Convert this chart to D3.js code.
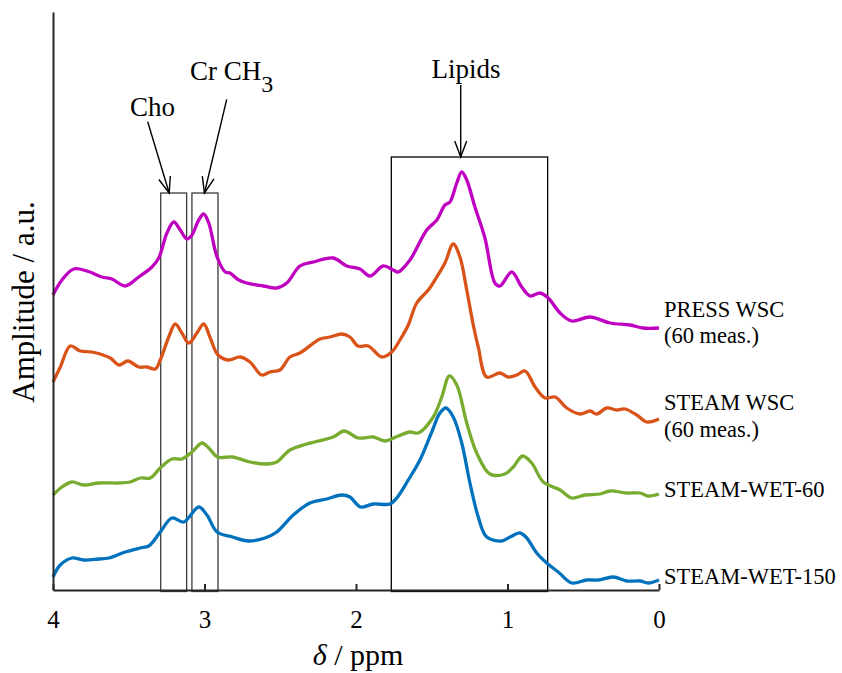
<!DOCTYPE html>
<html>
<head>
<meta charset="utf-8">
<script src="https://cdn.jsdelivr.net/npm/d3@7"></script>
<style>
  html, body { margin: 0; padding: 0; background: #fff; }
  svg text { font-family: "Liberation Serif", "Times New Roman", serif; fill: #000; }
</style>
</head>
<body>
<svg id="chart" width="842" height="673"></svg>
<script>
// Spectra: [chemical shift (ppm), amplitude (a.u.)], stacked with offsets
const pressWsc = [[4.00,295],[3.941,310],[3.863,321],[3.776,319],[3.677,313],[3.611,311],[3.523,304],[3.434,313],[3.347,323],[3.302,332],[3.248,357],[3.203,368],[3.160,360],[3.116,351],[3.083,355],[3.038,370],[3.005,376],[2.972,367],[2.917,333],[2.863,318],[2.832,317],[2.774,310],[2.721,307],[2.612,304],[2.523,302],[2.457,307],[2.370,324],[2.282,328],[2.150,332],[2.061,324],[1.974,321],[1.908,314],[1.820,324],[1.754,320],[1.721,318],[1.644,330],[1.533,360],[1.467,370],[1.413,385],[1.380,388],[1.335,407],[1.302,418],[1.269,410],[1.215,383],[1.149,352],[1.083,307],[1.050,304],[0.972,318],[0.906,303],[0.851,294],[0.785,297],[0.731,292],[0.653,277],[0.576,269],[0.455,273],[0.323,267],[0.191,265],[0.106,262],[0.00,262]];
const steamWsc = [[4.00,208],[3.952,223],[3.886,244],[3.820,239],[3.743,238],[3.622,232],[3.566,225],[3.505,229],[3.434,223],[3.380,223],[3.325,221],[3.292,230],[3.236,253],[3.193,266],[3.149,257],[3.104,247],[3.050,257],[3.005,266],[2.962,252],[2.911,235],[2.842,230],[2.764,233],[2.700,228],[2.622,215],[2.568,218],[2.502,220],[2.436,233],[2.370,237],[2.238,251],[2.172,253],[2.094,256],[2.040,253],[1.987,244],[1.919,244],[1.830,233],[1.764,238],[1.710,250],[1.655,265],[1.599,287],[1.523,300],[1.467,313],[1.413,327],[1.358,346],[1.314,333],[1.269,300],[1.226,265],[1.193,243],[1.137,213],[1.050,217],[0.995,213],[0.939,215],[0.884,219],[0.818,203],[0.752,192],[0.686,193],[0.609,182],[0.521,176],[0.455,179],[0.411,176],[0.345,182],[0.279,180],[0.224,181],[0.147,175],[0.081,168],[0.00,171]];
const steamWet60 = [[4.00,95],[3.941,103],[3.875,108],[3.797,105],[3.698,107],[3.566,107],[3.490,108],[3.424,112],[3.358,112],[3.292,122],[3.215,131],[3.149,131],[3.083,138],[3.017,147],[2.972,142],[2.914,133],[2.815,133],[2.700,128],[2.589,126],[2.523,128],[2.436,140],[2.325,146],[2.150,153],[2.079,159],[1.985,152],[1.886,153],[1.809,149],[1.721,154],[1.644,158],[1.589,157],[1.490,173],[1.434,193],[1.384,214],[1.335,205],[1.269,167],[1.203,137],[1.116,116],[1.017,116],[0.962,123],[0.900,134],[0.840,127],[0.764,108],[0.653,100],[0.576,92],[0.488,95],[0.389,96],[0.323,99],[0.213,97],[0.125,97],[0.071,94],[0.00,96]];
const steamWet150 = [[4.00,13],[3.952,25],[3.875,32],[3.797,30],[3.698,31],[3.632,32],[3.523,38],[3.424,42],[3.368,44],[3.292,58],[3.215,72],[3.137,68],[3.038,83],[2.984,75],[2.917,58],[2.815,53],[2.711,49],[2.601,52],[2.523,58],[2.414,75],[2.304,87],[2.193,91],[2.094,95],[2.040,93],[1.970,83],[1.886,86],[1.776,86],[1.731,92],[1.655,110],[1.578,130],[1.500,158],[1.446,177],[1.406,182],[1.358,173],[1.302,147],[1.248,107],[1.193,73],[1.137,53],[1.038,49],[0.983,53],[0.917,57],[0.873,52],[0.807,37],[0.741,27],[0.665,18],[0.576,7],[0.477,10],[0.401,10],[0.302,13],[0.213,9],[0.125,9],[0.071,7],[0.00,10]];

const seriesNames = [["PRESS WSC", "(60 meas.)"], ["STEAM WSC", "(60 meas.)"], ["STEAM-WET-60"], ["STEAM-WET-150"]];
const seriesData = [pressWsc, steamWsc, steamWet60, steamWet150];
const seriesColors = ["#C000C0", "#D95319", "#77AC30", "#0072BD"];

const xTicks = [4, 3, 2, 1, 0];

// Metabolite windows: [name, upper ppm, lower ppm, box top amplitude]
const regions = [["Cho", 3.289, 3.118, 397], ["Cr", 3.083, 2.911, 397], ["Lipids", 1.767, 0.735, 433]];

const svg = d3.select("#chart");
const x = d3.scaleLinear().domain([4, 0]).range([53, 659]);
const y = d3.scaleLinear().domain([0, 578]).range([590, 12]);

// Region boxes
svg.append("g").selectAll("rect").data(regions).join("rect")
  .attr("x", d => x(d[1]))
  .attr("y", d => y(d[3]))
  .attr("width", d => x(d[2]) - x(d[1]))
  .attr("height", d => y(-1.5) - y(d[3]))
  .attr("fill", "none")
  .attr("stroke", (d, i) => i < 2 ? "#3a3a3a" : "#000")
  .attr("stroke-width", 1.3);

// Spectra
const line = d3.line()
  .x(d => x(d[0]))
  .y(d => y(d[1]))
  .curve(d3.curveCatmullRom.alpha(0.5));

svg.append("g").selectAll("path").data(seriesData).join("path")
  .attr("d", line)
  .attr("fill", "none")
  .attr("stroke", (d, i) => seriesColors[i])
  .attr("stroke-width", 3.3)
  .attr("stroke-linejoin", "round")
  .attr("stroke-linecap", "butt");

// Axes
const xAxis = d3.axisBottom(x).tickValues(xTicks).tickSizeInner(-6).tickSizeOuter(0).tickFormat(d3.format("d"));
const gx = svg.append("g").attr("transform", "translate(0,590)").call(xAxis);
gx.select(".domain").attr("stroke", "#262626").attr("stroke-width", 2);
gx.selectAll(".tick line").attr("stroke", "#262626").attr("stroke-width", 2);
gx.selectAll(".tick text")
  .attr("y", 38).attr("dy", null)
  .style("font-family", "Liberation Serif").style("font-size", "25px").attr("fill", "#000");

const yAxis = d3.axisLeft(y).tickValues([]).tickSizeOuter(0);
const gy = svg.append("g").attr("transform", "translate(53,0)").call(yAxis);
gy.select(".domain").attr("stroke", "#262626").attr("stroke-width", 2);

// Axis titles
const xt = svg.append("text").attr("x", 358).attr("y", 665).attr("text-anchor", "middle").style("font-size", "30px");
xt.append("tspan").style("font-style", "italic").text("δ");
xt.append("tspan").text(" / ppm");

svg.append("text")
  .attr("transform", "translate(34,302) rotate(-90)")
  .attr("text-anchor", "middle")
  .style("font-size", "31px")
  .text("Amplitude / a.u.");

// Series labels at the right end of each trace
const labelBaselines = [316.5, 410, 496.5, 583.5];
const lg = svg.append("g");
seriesNames.forEach((lines, i) => {
  const t = lg.append("text").attr("x", 664).attr("y", labelBaselines[i]).style("font-size", "22.5px");
  lines.forEach((s, k) => t.append("tspan").attr("x", 664).attr("dy", k === 0 ? 0 : 26.7).text(s));
});

// Annotation arrows (open V heads)
function arrow(x1, y1, x2, y2) {
  const a = Math.atan2(y2 - y1, x2 - x1);
  const len = 17, half = 0.36;
  const p1 = [x2 - len * Math.cos(a - half), y2 - len * Math.sin(a - half)];
  const p2 = [x2 - len * Math.cos(a + half), y2 - len * Math.sin(a + half)];
  const g = svg.append("g").attr("stroke", "#000").attr("stroke-width", 1.4).attr("fill", "none");
  g.append("line").attr("x1", x1).attr("y1", y1).attr("x2", x2).attr("y2", y2);
  g.append("path").attr("d", `M${p1[0]},${p1[1]}L${x2},${y2}L${p2[0]},${p2[1]}`);
}
const cho = regions[0], cr = regions[1], lip = regions[2];
arrow(147.7, 121.7, (x(cho[1]) + x(cho[2])) / 2 - 4.5, y(cho[3]));
arrow(226.7, 99.3, (x(cr[1]) + x(cr[2])) / 2 - 0.5, y(cr[3]));
arrow(460.7, 85, 460.7, y(lip[3]));

// Annotation labels
svg.append("text").attr("x", 130).attr("y", 116).style("font-size", "27px").text("Cho");
const crt = svg.append("text").attr("x", 190).attr("y", 80).style("font-size", "27px");
crt.append("tspan").text("Cr CH");
crt.append("tspan").attr("dy", 12).style("font-size", "24px").text("3");
svg.append("text").attr("x", 466).attr("y", 78).attr("text-anchor", "middle").style("font-size", "27px").text("Lipids");
</script>
</body>
</html>
